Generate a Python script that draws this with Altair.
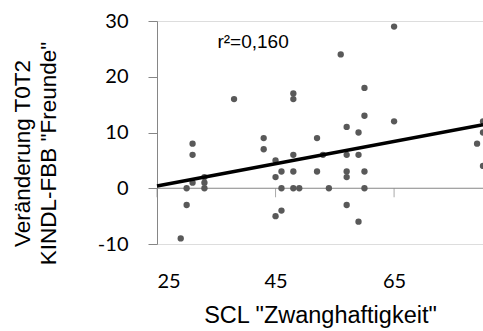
import altair as alt
import pandas as pd

# SCL "Zwanghaftigkeit" score per child and change in KINDL "Freunde" (T0 -> T2)
scl = [65, 56, 38, 48, 48, 60, 60, 65, 57, 59, 43, 52, 80, 80, 31, 31, 43, 45,
       48, 53, 57, 59, 79, 80, 33, 33, 31, 30, 33, 30, 29, 45, 46, 48, 52, 57,
       57, 60, 46, 48, 49, 54, 60, 45, 46, 57, 59]
change = [29, 24, 16, 17, 16, 18, 13, 12, 11, 10, 9, 9, 12, 10, 8, 6, 7, 5,
          6, 6, 6, 6, 8, 4, 2, 1, 1, 0, 0, -3, -9, 2, 3, 3, 3, 3,
          2, 3, 0, 0, 0, 0, 0, -5, -4, -3, -6]

x_ticks = [25, 45, 65]
y_ticks = [-10, 0, 10, 20, 30]
x_domain = [25, 80]
y_domain = [-10, 30]
r2_text = "r²=0,160"
r2_pos = (35.2, 26.2)

W, H = 326, 223
axis_grey = "#868686"

df = pd.DataFrame({"x": scl, "y": change})
ticks_df = pd.DataFrame({"x": x_ticks, "y": [0] * len(x_ticks)})
zero_df = pd.DataFrame({"x": [x_domain[0]], "x2": [x_domain[1]], "y": [0]})
label_df = pd.DataFrame({"x": [r2_pos[0]], "y": [r2_pos[1]], "t": [r2_text]})

xs = alt.Scale(domain=x_domain, nice=False, zero=False)
ys = alt.Scale(domain=y_domain, nice=False, zero=False)

y_axis = alt.Axis(
    values=y_ticks, grid=False, domainColor=axis_grey, tickColor=axis_grey,
    tickSize=9, labelFont="Lato", labelFontSize=20, labelColor="#000000",
    labelPadding=20, labelExpr="toString(datum.value)",
    title=["Veränderung T0T2", 'KINDL-FBB  "Freunde"'],
    titleFont="Liberation Sans", titleFontSize=22.5, titleFontWeight="normal",
    titleColor="#000000", titleX=-135, titleY=132, titleBaseline="middle",
    titleLineHeight=26,
)

# bottom axis: labels and title only; the axis line itself crosses at y = 0
x_axis = alt.Axis(
    orient="bottom", values=x_ticks, grid=False, domain=False, ticks=False,
    tickSize=0, labelFont="Lato", labelFontSize=20, labelColor="#000000",
    labelPadding=27,
    title='SCL "Zwanghaftigkeit"', titleFont="Liberation Sans",
    titleFontSize=23.5, titleFontWeight="normal", titleColor="#000000",
    titlePadding=12,
)

zero_line = alt.Chart(zero_df).mark_rule(color=axis_grey, strokeWidth=1).encode(
    x=alt.X("x:Q", scale=xs, axis=None),
    x2="x2:Q",
    y=alt.Y("y:Q", scale=ys, axis=y_axis),
)

zero_ticks = alt.Chart(ticks_df).mark_tick(
    color=axis_grey, orient="vertical", size=9, thickness=1, yOffset=4.5,
).encode(
    x=alt.X("x:Q", scale=xs, axis=None),
    y=alt.Y("y:Q", scale=ys, axis=y_axis),
)

points = alt.Chart(df).mark_circle(size=40, color="#595959", opacity=1).encode(
    x=alt.X("x:Q", scale=xs, axis=x_axis),
    y=alt.Y("y:Q", scale=ys, axis=y_axis),
)

trend = alt.Chart(df).transform_regression(
    "x", "y", extent=x_domain
).mark_line(color="#000000", strokeWidth=3.5).encode(
    x=alt.X("x:Q", scale=xs, axis=None),
    y=alt.Y("y:Q", scale=ys, axis=y_axis),
)

label = alt.Chart(label_df).mark_text(
    align="left", baseline="middle", font="Liberation Sans", fontSize=19,
    color="#000000",
).encode(
    x=alt.X("x:Q", scale=xs, axis=None),
    y=alt.Y("y:Q", scale=ys, axis=y_axis),
    text="t:N",
)

chart = alt.layer(
    zero_line, zero_ticks, points, trend, label
).resolve_axis(x="independent").properties(
    width=W, height=H,
    autosize=alt.AutoSizeParams(type="none"),
    padding={"left": 157, "top": 21, "right": 0, "bottom": 87},
).configure_view(stroke=None).configure(background="#ffffff")

chart.save("out.html", embed_options={"renderer": "svg", "actions": False})
